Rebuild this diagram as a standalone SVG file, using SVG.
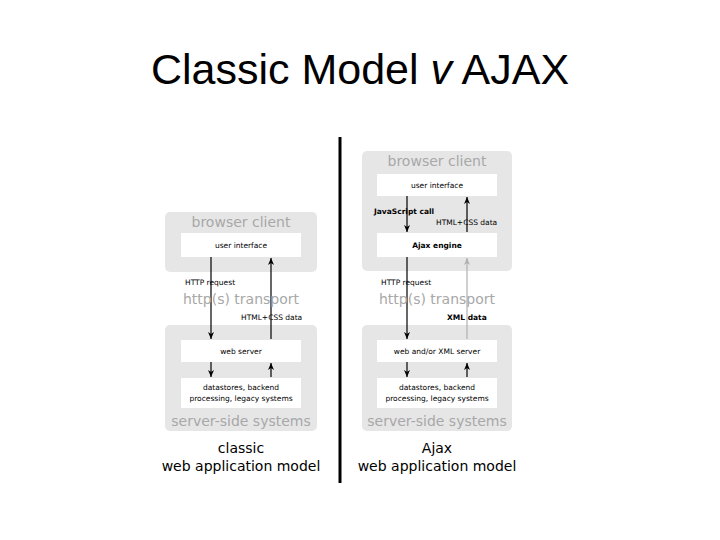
<svg xmlns="http://www.w3.org/2000/svg" width="720" height="540" viewBox="0 0 720 540">
<style>
.panel{fill:#e6e6e6}
.box{fill:#fff}
.big{font-family:"DejaVu Sans",sans-serif;font-size:14px;fill:#a8a8a8;text-anchor:middle}
.sm{font-family:"DejaVu Sans",sans-serif;font-size:7.5px;fill:#000}
.c{text-anchor:middle}
.b{font-weight:bold}
.cap{font-family:"DejaVu Sans",sans-serif;font-size:14px;fill:#000;text-anchor:middle}
.ln{stroke:#000;stroke-width:1.2;fill:none}
.gl{stroke:#b0b0b0;stroke-width:1.2;fill:none}
</style>
<defs>
<marker id="a" markerWidth="8" markerHeight="8" refX="7" refY="4" orient="auto" markerUnits="userSpaceOnUse"><path d="M0,1 L7,4 L0,7 L2,4 Z" fill="#000"/></marker>
<marker id="ag" markerWidth="8" markerHeight="8" refX="7" refY="4" orient="auto" markerUnits="userSpaceOnUse"><path d="M0,1 L7,4 L0,7 L2,4 Z" fill="#b0b0b0"/></marker>
</defs>
<text x="360" y="84" font-family="Liberation Sans,Arial,sans-serif" font-size="43" text-anchor="middle">Classic Model <tspan font-style="italic">v</tspan> AJAX</text>
<line x1="340" y1="137" x2="340" y2="483" stroke="#000" stroke-width="3"/>
<g id="classic-browser">
<rect class="panel" x="165" y="212" width="152" height="60" rx="5"/>
<text class="big" x="241" y="227">browser client</text>
<rect class="box" x="181" y="233" width="120" height="24"/>
<text class="sm c" x="241" y="248">user interface</text>
</g>
<g id="classic-server">
<rect class="panel" x="165" y="325" width="152" height="106" rx="5"/>
<rect class="box" x="181" y="340" width="120" height="22"/>
<text class="sm c" x="241" y="354">web server</text>
<rect class="box" x="181" y="378" width="120" height="30"/>
<text class="sm c" x="241" y="390">datastores, backend</text>
<text class="sm c" x="241" y="401">processing, legacy systems</text>
<text class="big" x="241" y="426">server-side systems</text>
</g>
<g id="ajax-browser">
<rect class="panel" x="362" y="151" width="150" height="120" rx="5"/>
<text class="big" x="437" y="166">browser client</text>
<rect class="box" x="377" y="174" width="120" height="22"/>
<text class="sm c" x="437" y="188">user interface</text>
<rect class="box" x="377" y="233" width="120" height="24"/>
<text class="sm c b" x="437" y="248">Ajax engine</text>
</g>
<g id="ajax-server">
<rect class="panel" x="362" y="325" width="150" height="106" rx="5"/>
<rect class="box" x="377" y="340" width="120" height="22"/>
<text class="sm c" x="437" y="354">web and/or XML server</text>
<rect class="box" x="377" y="378" width="120" height="30"/>
<text class="sm c" x="437" y="390">datastores, backend</text>
<text class="sm c" x="437" y="401">processing, legacy systems</text>
<text class="big" x="437" y="426">server-side systems</text>
</g>
<g id="connectors">
<line class="ln" x1="211" y1="257" x2="211" y2="339" marker-end="url(#a)"/>
<line class="ln" x1="271" y1="339" x2="271" y2="258" marker-end="url(#a)"/>
<line class="ln" x1="211" y1="362" x2="211" y2="377" marker-end="url(#a)"/>
<line class="ln" x1="271" y1="377" x2="271" y2="363" marker-end="url(#a)"/>
<line class="ln" x1="407" y1="196" x2="407" y2="232" marker-end="url(#a)"/>
<line class="ln" x1="467" y1="232" x2="467" y2="197" marker-end="url(#a)"/>
<line class="ln" x1="407" y1="257" x2="407" y2="339" marker-end="url(#a)"/>
<line class="gl" x1="467" y1="339" x2="467" y2="258" marker-end="url(#ag)"/>
<line class="ln" x1="407" y1="362" x2="407" y2="377" marker-end="url(#a)"/>
<line class="ln" x1="467" y1="377" x2="467" y2="363" marker-end="url(#a)"/>
</g>
<g id="labels">
<text class="sm" x="185" y="285">HTTP request</text>
<text class="big" x="241" y="304">http(s) transport</text>
<text class="sm" x="241" y="320">HTML+CSS data</text>
<text class="sm b" x="374" y="214">JavaScript call</text>
<text class="sm" x="436" y="225">HTML+CSS data</text>
<text class="sm" x="381" y="285">HTTP request</text>
<text class="big" x="437" y="304">http(s) transport</text>
<text class="sm b" x="447" y="320">XML data</text>
<text class="cap" x="241" y="453">classic</text>
<text class="cap" x="241" y="471">web application model</text>
<text class="cap" x="437" y="453">Ajax</text>
<text class="cap" x="437" y="471">web application model</text>
</g>
</svg>
